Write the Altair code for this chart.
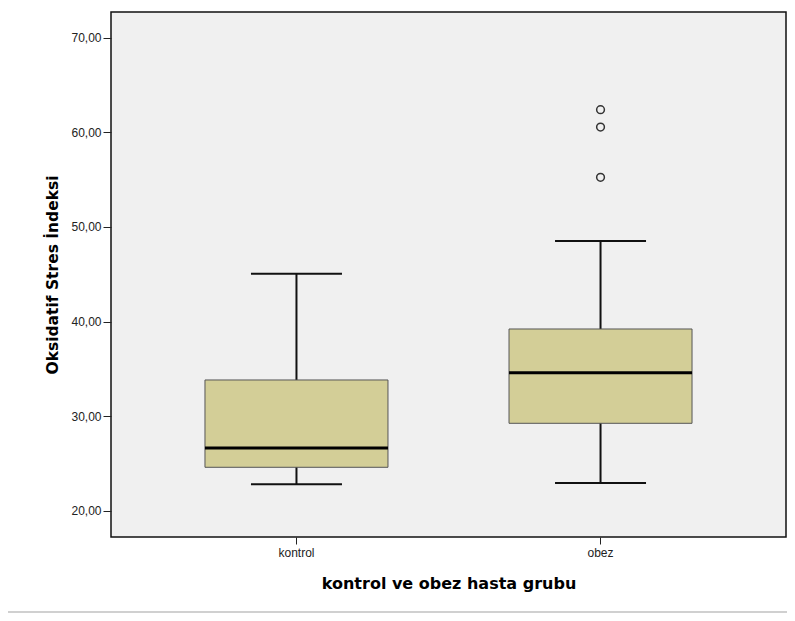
import altair as alt
import pandas as pd

groups = ["kontrol", "obez"]
whisker_low = [22.79, 22.93]
q1 = [24.59, 29.24]
median = [26.63, 34.59]
q3 = [33.82, 39.21]
whisker_high = [45.05, 48.51]

outlier_group = ["obez", "obez", "obez"]
outlier_value = [62.39, 60.56, 55.24]

y_ticks = [20, 30, 40, 50, 60, 70]

box = pd.DataFrame({
    "grup": groups, "low": whisker_low, "q1": q1, "med": median,
    "q3": q3, "high": whisker_high,
})
outl = pd.DataFrame({"grup": outlier_group, "val": outlier_value})

x_scale = alt.Scale(domain=groups, paddingInner=0.4, paddingOuter=0.31)
y_scale = alt.Scale(domain=[17.22, 72.72], nice=False, zero=False)

x = alt.X("grup:N", scale=x_scale, sort=groups,
          axis=alt.Axis(title="kontrol ve obez hasta grubu", labelAngle=0,
                        domain=False, tickSize=7, tickColor="#222",
                        labelPadding=3, titlePadding=17, titleFontSize=16))
y_axis = alt.Axis(title="Oksidatif Stres İndeksi", values=y_ticks,
                  labelExpr="replace(format(datum.value, '.2f'), '.', ',')",
                  domain=False, grid=False, tickSize=8, tickColor="#222",
                  labelPadding=2, titlePadding=10, titleFontSize=15.5)

base = alt.Chart(box)

whisk = base.mark_rule(color="#111", strokeWidth=2).encode(
    x=x, y=alt.Y("low:Q", scale=y_scale, axis=y_axis), y2="high:Q")
bars = base.mark_bar(size=183, color="#d3ce97", stroke="#555", strokeWidth=1,
                     opacity=1).encode(
    x=x, y=alt.Y("q1:Q", scale=y_scale), y2="q3:Q")
med = base.mark_tick(size=183, thickness=3, color="#000", opacity=1).encode(
    x=x, y=alt.Y("med:Q", scale=y_scale))
cap_lo = base.mark_tick(size=91, thickness=2, color="#111", opacity=1).encode(
    x=x, y=alt.Y("low:Q", scale=y_scale))
cap_hi = base.mark_tick(size=91, thickness=2, color="#111", opacity=1).encode(
    x=x, y=alt.Y("high:Q", scale=y_scale))
pts = alt.Chart(outl).mark_point(shape="circle", filled=False, size=60,
                                 color="#333", strokeWidth=1.5, opacity=1).encode(
    x=x, y=alt.Y("val:Q", scale=y_scale))

sep = alt.Chart(box).mark_rule(color="#cccccc", strokeWidth=1.5, clip=False).encode(
    x=alt.value(-103), x2=alt.value(676), y=alt.value(600))

chart = alt.layer(whisk, bars, med, cap_lo, cap_hi, pts, sep).properties(
    width=675, height=525,
    autosize=alt.AutoSizeParams(type="none"),
    padding={"left": 103, "top": 4, "right": 1, "bottom": 76},
    background="white",
).configure_view(
    fill="#f0f0f0", stroke="#111", strokeWidth=1.5
).configure_axis(
    labelFont="Liberation Sans", labelFontSize=12, labelColor="#222",
    titleFont="DejaVu Sans", titleFontWeight="bold",
    titleColor="#000",
)

chart.save("out.html", embed_options={"renderer": "svg", "actions": False})
